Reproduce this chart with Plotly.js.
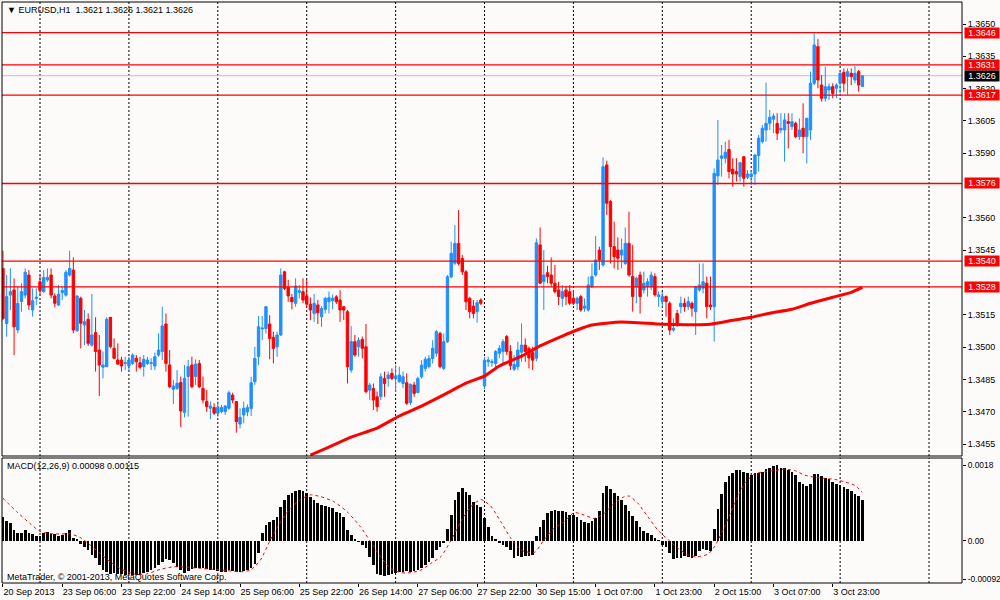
<!DOCTYPE html>
<html><head><meta charset="utf-8">
<script src="https://cdn.plot.ly/plotly-3.0.1.min.js"></script>
<style>html,body{margin:0;padding:0;background:#fdfafa}</style>
</head><body><div id="chart" style="width:1000px;height:600px"></div>
<script>
// ---- EURUSD H1 candles (index 0 = 20 Sep 2013 13:00) ----
const open = [
1.35366,1.35110,1.35242,1.35266,1.35080,1.35212,1.35242,1.35335,1.35173,1.35227,
1.35304,1.35258,1.35312,1.35335,1.35238,1.35196,1.35253,1.35242,1.35335,1.35358,
1.35077,1.35227,1.35103,1.35130,1.35010,1.35068,1.34987,1.34907,1.34910,1.35139,
1.34995,1.34941,1.34941,1.34925,1.34913,1.34925,1.34949,1.34928,1.34910,1.34925,
1.34925,1.34913,1.34964,1.34980,1.35108,1.34918,1.34805,1.34809,1.34836,1.34697,
1.34864,1.34918,1.34864,1.34925,1.34809,1.34748,1.34717,1.34720,1.34694,1.34701,
1.34701,1.34717,1.34778,1.34748,1.34644,1.34686,1.34700,1.34716,1.34840,1.34956,
1.35085,1.35087,1.35108,1.35046,1.35002,1.35057,1.35350,1.35278,1.35231,1.35204,
1.35255,1.35258,1.35238,1.35200,1.35157,1.35196,1.35142,1.35176,1.35211,1.35216,
1.35234,1.35219,1.35188,1.35165,1.34894,1.35026,1.35002,1.35036,1.35002,1.34801,
1.34809,1.34770,1.34770,1.34855,1.34855,1.34879,1.34855,1.34840,1.34832,1.34835,
1.34743,1.34825,1.34790,1.34863,1.34902,1.34910,1.34948,1.34972,1.35064,1.34902,
1.35026,1.35327,1.35390,1.35482,1.35412,1.35350,1.35227,1.35191,1.35165,1.35219,
1.34820,1.34933,1.34929,1.34925,1.34972,1.34980,1.35050,1.34980,1.34898,1.34910,
1.34977,1.35010,1.34995,1.34975,1.34949,1.35475,1.35304,1.35346,1.35335,1.35297,
1.35266,1.35227,1.35266,1.35258,1.35227,1.35204,1.35235,1.35181,1.35173,1.35281,
1.35335,1.35451,1.35382,1.35846,1.35676,1.35467,1.35451,1.35428,1.35389,1.35482,
1.35328,1.35281,1.35335,1.35266,1.35281,1.35281,1.35328,1.35235,1.35212,1.35235,
1.35204,1.35080,1.35157,1.35188,1.35204,1.35188,1.35204,1.35165,1.35266,1.35274,
1.35297,1.35196,1.35188,1.35795,1.35877,1.35877,1.35918,1.35826,1.35815,1.35792,
1.35884,1.35789,1.35792,1.35804,1.35890,1.35954,1.36008,1.36039,1.36058,1.36039,
1.36008,1.36008,1.36047,1.36024,1.36039,1.35977,1.36016,1.35977,1.36008,1.36225,
1.36395,1.36217,1.36155,1.36194,1.36209,1.36202,1.36225,1.36275,1.36256,1.36271,
1.36240,1.36279,1.36210];
const high = [
1.35448,1.35335,1.35366,1.35320,1.35281,1.35297,1.35366,1.35358,1.35273,1.35273,
1.35335,1.35358,1.35366,1.35366,1.35250,1.35289,1.35281,1.35358,1.35448,1.35417,
1.35240,1.35235,1.35173,1.35157,1.35247,1.35139,1.35057,1.34980,1.35139,1.35140,
1.35041,1.35018,1.34956,1.34956,1.34956,1.34972,1.34964,1.34956,1.34964,1.34956,
1.34949,1.34975,1.35065,1.35188,1.35157,1.34987,1.34848,1.34894,1.34864,1.34918,
1.34941,1.34956,1.34944,1.34941,1.34864,1.34802,1.34748,1.34740,1.34748,1.34732,
1.34732,1.34799,1.34789,1.34749,1.34717,1.34748,1.34735,1.34863,1.35002,1.35145,
1.35145,1.35191,1.35149,1.35072,1.35072,1.35366,1.35355,1.35312,1.35247,1.35320,
1.35289,1.35320,1.35315,1.35231,1.35247,1.35219,1.35191,1.35234,1.35258,1.35245,
1.35242,1.35265,1.35191,1.35173,1.35098,1.35057,1.35046,1.35050,1.35108,1.34835,
1.34832,1.34794,1.34879,1.34887,1.34887,1.34902,1.34917,1.34910,1.34887,1.34879,
1.34832,1.34840,1.34863,1.34940,1.34956,1.34964,1.35033,1.35080,1.35072,1.35064,
1.35335,1.35490,1.35567,1.35637,1.35428,1.35358,1.35234,1.35219,1.35219,1.35227,
1.34955,1.34956,1.34945,1.34987,1.35010,1.35038,1.35057,1.35010,1.34964,1.35026,
1.35111,1.35041,1.35003,1.35003,1.35505,1.35556,1.35451,1.35378,1.35417,1.35382,
1.35304,1.35289,1.35285,1.35289,1.35266,1.35235,1.35243,1.35227,1.35328,1.35389,
1.35516,1.35467,1.35881,1.35866,1.35683,1.35583,1.35510,1.35505,1.35556,1.35629,
1.35475,1.35328,1.35351,1.35351,1.35320,1.35351,1.35343,1.35258,1.35258,1.35240,
1.35212,1.35134,1.35173,1.35235,1.35227,1.35235,1.35212,1.35285,1.35389,1.35389,
1.35328,1.35328,1.35830,1.36055,1.35939,1.35954,1.35962,1.35877,1.35877,1.35861,
1.35888,1.35822,1.35822,1.35897,1.35985,1.36031,1.36228,1.36101,1.36086,1.36086,
1.36086,1.36086,1.36086,1.36086,1.36047,1.36062,1.36132,1.36065,1.36279,1.36457,
1.36430,1.36263,1.36302,1.36225,1.36225,1.36225,1.36279,1.36294,1.36294,1.36294,
1.36305,1.36287,1.36260];
const low = [
1.35126,1.35049,1.35173,1.34964,1.35065,1.35165,1.35227,1.35173,1.35142,1.35196,
1.35242,1.35253,1.35304,1.35227,1.35185,1.35191,1.35219,1.35235,1.35328,1.35065,
1.35072,1.34995,1.35010,1.35006,1.35003,1.34887,1.34774,1.34856,1.34910,1.34995,
1.34944,1.34918,1.34887,1.34894,1.34887,1.34918,1.34887,1.34898,1.34864,1.34918,
1.34894,1.34894,1.34956,1.34941,1.34887,1.34810,1.34737,1.34802,1.34629,1.34675,
1.34678,1.34810,1.34825,1.34810,1.34740,1.34701,1.34666,1.34686,1.34678,1.34694,
1.34686,1.34709,1.34740,1.34604,1.34624,1.34647,1.34680,1.34681,1.34825,1.34917,
1.35033,1.35064,1.34944,1.34925,1.34956,1.35052,1.35265,1.35211,1.35176,1.35188,
1.35227,1.35204,1.35188,1.35126,1.35118,1.35108,1.35095,1.35157,1.35157,1.35176,
1.35200,1.35118,1.35126,1.34832,1.34882,1.34956,1.34956,1.34948,1.34786,1.34755,
1.34709,1.34701,1.34755,1.34770,1.34817,1.34848,1.34794,1.34835,1.34810,1.34732,
1.34732,1.34770,1.34786,1.34855,1.34887,1.34902,1.34925,1.34956,1.34902,1.34894,
1.35020,1.35320,1.35382,1.35380,1.35335,1.35173,1.35134,1.35134,1.35114,1.35196,
1.34805,1.34910,1.34910,1.34902,1.34949,1.34925,1.34964,1.34894,1.34890,1.34894,
1.34933,1.34933,1.34902,1.34894,1.34935,1.35295,1.35173,1.35297,1.35281,1.35250,
1.35196,1.35188,1.35196,1.35196,1.35196,1.35173,1.35165,1.35165,1.35165,1.35274,
1.35328,1.35359,1.35374,1.35613,1.35389,1.35366,1.35359,1.35366,1.35382,1.35328,
1.35165,1.35204,1.35157,1.35250,1.35235,1.35266,1.35235,1.35188,1.35188,1.35142,
1.35057,1.35072,1.35095,1.35157,1.35165,1.35173,1.35142,1.35057,1.35258,1.35250,
1.35134,1.35173,1.35026,1.35753,1.35792,1.35853,1.35784,1.35745,1.35769,1.35769,
1.35745,1.35780,1.35753,1.35753,1.35815,1.35946,1.35954,1.36008,1.35993,1.35962,
1.35993,1.35861,1.35923,1.36008,1.35970,1.35962,1.35900,1.35853,1.35962,1.36217,
1.36202,1.36140,1.36140,1.36147,1.36155,1.36155,1.36178,1.36186,1.36171,1.36217,
1.36225,1.36186,1.36210];
const close = [
1.35134,1.35235,1.35258,1.35095,1.35204,1.35258,1.35348,1.35196,1.35216,1.35232,
1.35263,1.35324,1.35324,1.35242,1.35204,1.35247,1.35263,1.35348,1.35366,1.35080,
1.35238,1.35111,1.35119,1.35018,1.35057,1.34980,1.34918,1.34918,1.35130,1.35003,
1.34949,1.34922,1.34913,1.34928,1.34941,1.34964,1.34933,1.34907,1.34944,1.34941,
1.34928,1.34956,1.34987,1.35099,1.34925,1.34817,1.34820,1.34833,1.34704,1.34856,
1.34910,1.34817,1.34922,1.34817,1.34755,1.34724,1.34727,1.34694,1.34721,1.34721,
1.34727,1.34789,1.34755,1.34655,1.34675,1.34717,1.34720,1.34835,1.34948,1.35095,
1.35089,1.35188,1.35041,1.34995,1.35057,1.35335,1.35273,1.35238,1.35211,1.35284,
1.35262,1.35219,1.35200,1.35173,1.35204,1.35160,1.35180,1.35227,1.35230,1.35227,
1.35211,1.35173,1.35173,1.34910,1.35026,1.34964,1.35033,1.34995,1.34794,1.34825,
1.34755,1.34724,1.34863,1.34832,1.34871,1.34855,1.34867,1.34871,1.34863,1.34740,
1.34828,1.34786,1.34855,1.34917,1.34944,1.34948,1.34995,1.35072,1.34910,1.35026,
1.35327,1.35436,1.35482,1.35389,1.35350,1.35211,1.35165,1.35157,1.35207,1.35204,
1.34940,1.34941,1.34933,1.34980,1.34995,1.35026,1.34980,1.34915,1.34920,1.34987,
1.35010,1.34980,1.34950,1.34940,1.35485,1.35297,1.35335,1.35328,1.35297,1.35258,
1.35235,1.35258,1.35235,1.35204,1.35204,1.35227,1.35173,1.35192,1.35289,1.35328,
1.35405,1.35405,1.35838,1.35668,1.35467,1.35420,1.35413,1.35451,1.35482,1.35335,
1.35235,1.35320,1.35235,1.35297,1.35304,1.35335,1.35243,1.35243,1.35235,1.35212,
1.35080,1.35088,1.35103,1.35204,1.35188,1.35212,1.35181,1.35281,1.35289,1.35304,
1.35188,1.35188,1.35807,1.35869,1.35888,1.35905,1.35815,1.35804,1.35804,1.35856,
1.35784,1.35804,1.35804,1.35892,1.35970,1.36016,1.36039,1.36067,1.36073,1.35993,
1.36016,1.36055,1.36039,1.36047,1.35977,1.36008,1.35977,1.36062,1.36225,1.36403,
1.36240,1.36155,1.36209,1.36209,1.36178,1.36217,1.36271,1.36225,1.36279,1.36256,
1.36271,1.36217,1.36260];

// ---- moving average (read points) ----
const maIdx = [83,88,94,101,107,113,120,125,130,134,140,145,151,155,159,167,178,191,197,202,207,213,218,224,229,232];
const maVal = [1.34500,1.34537,1.34583,1.34625,1.34681,1.34727,1.34788,1.34834,1.34866,1.34913,1.34959,1.35006,1.35052,1.35080,1.35103,1.35117,1.35107,1.35107,1.35125,1.35139,1.35158,1.35176,1.35204,1.35232,1.35255,1.35278];

// ---- MACD(12,26,9) histogram ----
const macd = [
0.00057,0.00048,0.00043,0.00025,0.00019,0.00019,0.00025,0.00019,0.00016,0.00011,
0.00011,0.00019,0.00021,0.00017,0.00015,0.00011,0.00014,0.00019,0.00025,0.00006,
0.00003,-0.00008,-0.00014,-0.00022,-0.00034,-0.00042,-0.00058,-0.00070,-0.00074,-0.00078,
-0.00076,-0.00079,-0.00080,-0.00082,-0.00080,-0.00082,-0.00081,-0.00079,-0.00076,-0.00074,
-0.00070,-0.00064,-0.00058,-0.00050,-0.00044,-0.00046,-0.00054,-0.00062,-0.00070,-0.00076,
-0.00072,-0.00068,-0.00066,-0.00064,-0.00066,-0.00068,-0.00070,-0.00070,-0.00071,-0.00074,
-0.00074,-0.00070,-0.00071,-0.00074,-0.00074,-0.00071,-0.00070,-0.00066,-0.00056,-0.00030,
0.00019,0.00037,0.00045,0.00049,0.00057,0.00081,0.00098,0.00109,0.00114,0.00119,
0.00121,0.00119,0.00114,0.00105,0.00097,0.00090,0.00085,0.00083,0.00081,0.00077,
0.00069,0.00065,0.00057,0.00025,0.00014,0.00003,-0.00002,-0.00010,-0.00018,-0.00038,
-0.00058,-0.00078,-0.00082,-0.00084,-0.00082,-0.00079,-0.00076,-0.00074,-0.00074,-0.00071,
-0.00074,-0.00071,-0.00069,-0.00066,-0.00058,-0.00050,-0.00040,-0.00022,-0.00014,-0.00006,
0.00029,0.00061,0.00097,0.00117,0.00125,0.00117,0.00109,0.00093,0.00085,0.00081,
0.00053,0.00033,0.00011,0.00003,
-0.00006,-0.00010,-0.00014,-0.00022,-0.00042,-0.00036,-0.00038,-0.00036,-0.00036,-0.00034,
0.00011,0.00032,0.00049,0.00065,0.00071,0.00073,0.00071,0.00071,0.00069,0.00061,
0.00061,0.00057,0.00049,0.00045,0.00043,0.00048,0.00053,0.00070,0.00114,0.00130,
0.00122,0.00114,0.00106,0.00098,0.00085,0.00071,0.00059,0.00048,0.00032,0.00024,
0.00019,0.00014,0.00006,0.00001,-0.00010,-0.00014,-0.00030,-0.00044,-0.00042,-0.00040,
-0.00036,-0.00038,-0.00040,-0.00036,-0.00024,-0.00020,-0.00022,-0.00024,0.00029,0.00075,
0.00111,0.00140,0.00154,0.00162,0.00167,0.00168,0.00164,0.00160,0.00156,0.00160,
0.00162,0.00164,0.00170,0.00172,0.00178,0.00180,0.00174,0.00172,0.00168,0.00164,
0.00156,0.00140,0.00135,0.00129,0.00136,0.00159,0.00159,0.00154,0.00148,0.00146,
0.00140,0.00136,0.00132,0.00127,0.00123,0.00118,0.00112,0.00106,0.00098];

// ---- MACD signal line (read points) ----
const sigIdx = [0,3.7,7.3,10,12.7,15.4,18.1,20.8,23.5,26.2,28.9,31.6,35.2,38.8,42.5,46.1,49.7,53.3,56.9,60.5,64.1,66.8,69.5,72.2,74.9,77.6,80.3,83,85.7,89.3,92.9,96.5,99.2,101.9,104.7,107.4,110,112.8,115.5,118.2,120.9,123.6,126.3,129,131.7,134.4,137.1,139.8,143.4,146.1,148.8,151.5,154.2,156.9,159.6,162.3,165,167.8,169.1,171.4,174.1,176.8,179.5,182.2,184.9,187.6,190.3,192.1,194.8,197.5,200.2,202.9,205.6,208.3,211,213.7,216.4,219.1,221.8,224.5,227.2,229.9,232];
const sigVal = [0.00101,0.00069,0.00041,0.00022,0.00017,0.00016,0.00016,0.00008,-0.00010,-0.00030,-0.00050,-0.00066,-0.00079,-0.00079,-0.00068,-0.00062,-0.00063,-0.00066,-0.00068,-0.00071,-0.00074,-0.00070,-0.00046,0.00002,0.00045,0.00077,0.00098,0.00109,0.00105,0.00093,0.00069,0.00033,-0.00002,-0.00038,-0.00066,-0.00076,-0.00076,-0.00070,-0.00054,-0.00038,0.00000,0.00045,0.00081,0.00098,0.00082,0.00045,0.00006,-0.00022,-0.00028,0.00002,0.00030,0.00045,0.00067,0.00061,0.00053,0.00065,0.00089,0.00105,0.00106,0.00089,0.00057,0.00025,0.00003,-0.00018,-0.00034,-0.00038,-0.00032,-0.00014,0.00033,0.00089,0.00136,0.00159,0.00164,0.00167,0.00170,0.00167,0.00156,0.00151,0.00148,0.00146,0.00140,0.00132,0.00115];

// ---- axes labels ----
const timeTickIdx = [0,16,32,48,64,80,96,112,128,144,160,176,192,208,224];
const timeTickText = ["20 Sep 2013","23 Sep 06:00","23 Sep 22:00","24 Sep 14:00","25 Sep 06:00","25 Sep 22:00","26 Sep 14:00","27 Sep 06:00","27 Sep 22:00","30 Sep 15:00","1 Oct 07:00","1 Oct 23:00","2 Oct 15:00","3 Oct 07:00","3 Oct 23:00"];
const daySepIdx = [10,34,58,82,106,130,154,178,202,226,250];
const priceTicks = [1.3455,1.3470,1.3485,1.3500,1.3515,1.3545,1.3560,1.3590,1.3605,1.3620,1.3635,1.3650];
const macdTicks = [0.0018,0,-0.00092];
const macdTickText = ["0.0018","0.00","-0.00092"];
const levels = [1.3646,1.3631,1.3617,1.3576,1.3540,1.3528];
const bidPrice = 1.3626;
const titleText = "\u25BC EURUSD,H1\u00a0\u00a01.3621 1.3626 1.3621 1.3626";
const macdText = "MACD(12,26,9) 0.00098 0.00115";
const copyText = "MetaTrader, \u00a9 2001-2013, MetaQuotes Software Corp.";

// ---- layout geometry (pixels) ----
const W = 1000, H = 600;
const px = v => v / W, py = v => 1 - v / H;
const LEFT = 2, RIGHT = 962, MAIN_T = 2, MAIN_B = 456, SUB_T = 458, SUB_B = 583;
const BG = '#fdfafa';
const FONT = 'Liberation Sans, Arial, sans-serif';

const xIdx = open.map((_, i) => i);
const xRange = [-0.26, 258.9];

const traces = [
  {type:'candlestick', x:xIdx, open:open, high:high, low:low, close:close, xaxis:'x', yaxis:'y',
   increasing:{line:{color:'#1e90ff', width:1}, fillcolor:'#1e90ff'},
   decreasing:{line:{color:'#ff0000', width:1}, fillcolor:'#ff0000'},
   whiskerwidth:0, hoverinfo:'skip'},
  {type:'scatter', mode:'lines', x:maIdx, y:maVal, xaxis:'x', yaxis:'y',
   line:{color:'#ff0000', width:3, shape:'spline', smoothing:0.5}, hoverinfo:'skip'},
  {type:'bar', x:xIdx, y:macd, xaxis:'x2', yaxis:'y2', width:0.72,
   marker:{color:'#000000', line:{width:0}}, hoverinfo:'skip'},
  {type:'scatter', mode:'lines', x:sigIdx, y:sigVal, xaxis:'x2', yaxis:'y2',
   line:{color:'#ff0000', width:1, dash:'dot', shape:'spline', smoothing:0.6}, hoverinfo:'skip'}
];

const shapes = [];
daySepIdx.forEach(d => {
  [[MAIN_B, MAIN_T],[SUB_B, SUB_T]].forEach(([b,t]) => {
    shapes.push({type:'line', xref:'x', yref:'paper', x0:d, x1:d, y0:py(b), y1:py(t),
      line:{color:'#000', width:1, dash:'2px,2px'}, layer:'below'});
  });
});
shapes.push({type:'line', xref:'paper', yref:'y', x0:px(LEFT), x1:px(RIGHT), y0:bidPrice, y1:bidPrice,
  line:{color:'#c0c0c0', width:1}, layer:'below'});
levels.forEach(l => shapes.push({type:'line', xref:'paper', yref:'y', x0:px(LEFT), x1:px(RIGHT), y0:l, y1:l,
  line:{color:'rgb(255,0,0)', width:1.3}, layer:'above'}));
[[MAIN_T, MAIN_B],[SUB_T, SUB_B]].forEach(([t,b]) => shapes.push({type:'rect', xref:'paper', yref:'paper',
  x0:px(LEFT), x1:px(RIGHT), y0:py(b), y1:py(t), line:{color:'#000', width:1}, fillcolor:'rgba(0,0,0,0)', layer:'above'}));

const annotations = [
  {xref:'paper', yref:'paper', x:px(5), y:py(10), xanchor:'left', yanchor:'middle', text:titleText, showarrow:false,
   font:{family:FONT, size:9, color:'#000'}},
  {xref:'paper', yref:'paper', x:px(5), y:py(466), xanchor:'left', yanchor:'middle', text:macdText, showarrow:false,
   font:{family:FONT, size:9, color:'#000'}},
  {xref:'paper', yref:'paper', x:px(5), y:py(577), xanchor:'left', yanchor:'middle', text:copyText, showarrow:false,
   font:{family:FONT, size:9, color:'#000'}}
];
levels.forEach(l => annotations.push({xref:'paper', yref:'y', x:px(964), y:l, xanchor:'left', yanchor:'middle',
  text:l.toFixed(4), showarrow:false, bgcolor:'#ff0000', width:34, height:10, borderpad:0, align:'center',
  font:{family:FONT, size:9, color:'#ffffff'}}));
annotations.push({xref:'paper', yref:'y', x:px(964), y:bidPrice, xanchor:'left', yanchor:'middle',
  text:bidPrice.toFixed(4), showarrow:false, bgcolor:'#000000', width:34, height:10, borderpad:0, align:'center',
  font:{family:FONT, size:9, color:'#ffffff'}});

const layout = {
  width:W, height:H, margin:{l:0, r:0, t:0, b:0}, paper_bgcolor:BG, plot_bgcolor:BG,
  showlegend:false, hovermode:false, bargap:0, boxgap:0.2, boxgroupgap:0.2,
  font:{family:FONT, size:9, color:'#000'},
  xaxis:{domain:[px(LEFT), px(RIGHT)], range:xRange, anchor:'y', showticklabels:false, ticks:'',
         showgrid:false, zeroline:false, showline:false, rangeslider:{visible:false}, fixedrange:true},
  xaxis2:{domain:[px(LEFT), px(RIGHT)], range:xRange, anchor:'y2', tickmode:'array', tickvals:timeTickIdx,
          ticktext:timeTickText, ticks:'outside', ticklen:3, tickcolor:'#000', tickangle:0,
          ticklabelposition:'outside right', automargin:false,
          showgrid:false, zeroline:false, showline:false, fixedrange:true, tickfont:{family:FONT, size:9, color:'#000'}},
  yaxis:{domain:[py(MAIN_B), py(MAIN_T)], range:[1.344954, 1.366021], anchor:'x', side:'right',
         tickmode:'array', tickvals:priceTicks, tickformat:'.4f', ticks:'outside', ticklen:3, tickcolor:'#000',
         showgrid:false, zeroline:false, showline:false, fixedrange:true, automargin:false,
         tickfont:{family:FONT, size:9, color:'#000'}},
  yaxis2:{domain:[py(SUB_B), py(SUB_T)], range:[-0.001006, 0.001967], anchor:'x2', side:'right',
          tickmode:'array', tickvals:macdTicks, ticktext:macdTickText, ticks:'outside', ticklen:3, tickcolor:'#000',
          showgrid:false, zeroline:false, showline:false, fixedrange:true, automargin:false,
          tickfont:{family:FONT, size:8.4, color:'#000'}},
  shapes:shapes, annotations:annotations
};

Plotly.newPlot('chart', traces, layout, {staticPlot:true, displayModeBar:false});
</script></body></html>
